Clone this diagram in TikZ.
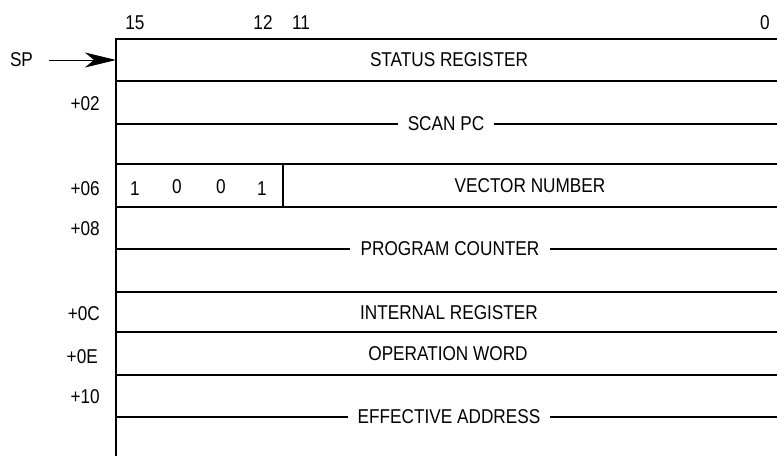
\documentclass[tikz,border=0pt]{standalone}
\usepackage{fontspec}
\setmainfont[FakeStretch=0.86]{Liberation Sans}
\usetikzlibrary{arrows.meta}
\begin{document}
\begin{tikzpicture}[x=1pt,y=-1pt,
  rule/.style={line width=1.2pt},
  lbl/.style={font=\fontsize{20}{23}\selectfont, inner sep=0pt},
  gaplbl/.style={font=\fontsize{20}{23}\selectfont, inner sep=0pt, inner xsep=10pt},
  offs/.style={font=\fontsize{20}{23}\selectfont, inner sep=0pt, anchor=east}]
\useasboundingbox (0,0) rectangle (777,456);
% frame corners
\coordinate (tl) at (116,39);
\coordinate (tr) at (777,39);
\coordinate (bl) at (116,456);
% bit numbers
\node[lbl] (b15) at (135,22.5) {15};
\node[lbl] (b12) at (263,22.5) {12};
\node[lbl] (b11) at (301,22.5) {11};
\node[lbl] (b0) at (765,22.5) {0};
% frame
\draw[rule] (tr) -- (tl) -- (bl);
\draw[rule] (116,81) -- (777,81);
\draw[rule] (116,164) -- (777,164);
\draw[rule] (116,207) -- (777,207);
\draw[rule] (116,292) -- (777,292);
\draw[rule] (116,332) -- (777,332);
\draw[rule] (116,375) -- (777,375);
% SP arrow
\node[lbl] (sp) at (21.5,60) {SP};
\coordinate (sptip) at (116,60);
\draw[line width=1pt,-{Stealth[length=31pt,width=15pt,inset=9pt]}] (sp.east) ++(16,0) -- (sptip);
% offsets
\node[offs] (o02) at (100,103.5) {+02};
\node[offs] (o06) at (100,189) {+06};
\node[offs] (o08) at (100,228.5) {+08};
\node[offs] (o0C) at (100,313.5) {+0C};
\node[offs] (o0E) at (98,356.5) {+0E};
\node[offs] (o10) at (100,396.5) {+10};
% row texts
\node[lbl] (sr) at (449,60) {STATUS REGISTER};
\node[gaplbl] (spc) at (446,124) {SCAN PC};
\draw[rule] (116,124) -- (spc.west);
\draw[rule] (spc.east) -- (777,124);
\node[lbl] (d1) at (135,188.5) {1};
\node[lbl] (d2) at (177,186.5) {0};
\node[lbl] (d3) at (221,186.5) {0};
\node[lbl] (d4) at (262,188.5) {1};
\draw[rule] (283,164) -- (283,207);
\node[lbl] (vn) at (530,186) {VECTOR NUMBER};
\node[gaplbl] (pc) at (450,249) {PROGRAM COUNTER};
\draw[rule] (116,249) -- (pc.west);
\draw[rule] (pc.east) -- (777,249);
\node[lbl] (ir) at (449,313) {INTERNAL REGISTER};
\node[lbl] (ow) at (448,354) {OPERATION WORD};
\node[gaplbl] (ea) at (449,417) {EFFECTIVE ADDRESS};
\draw[rule] (116,417) -- (ea.west);
\draw[rule] (ea.east) -- (777,417);
\end{tikzpicture}
\end{document}
